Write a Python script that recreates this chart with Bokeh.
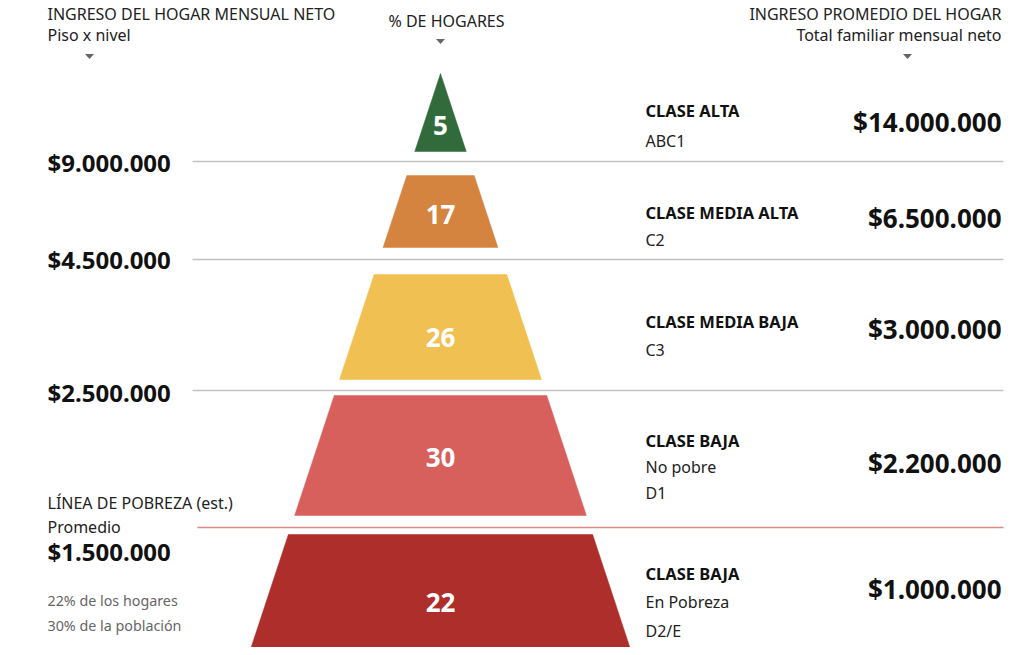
from bokeh.plotting import figure
from bokeh.models import Range1d
from bokeh.core.properties import value
from bokeh.embed import file_html
from bokeh.resources import INLINE

# ---------------- DATA ----------------
clases = ["CLASE ALTA", "CLASE MEDIA ALTA", "CLASE MEDIA BAJA", "CLASE BAJA", "CLASE BAJA"]
subniveles = [["ABC1"], ["C2"], ["C3"], ["No pobre", "D1"], ["En Pobreza", "D2/E"]]
pct_hogares = [5, 17, 26, 30, 22]
ingreso_promedio = [14000000, 6500000, 3000000, 2200000, 1000000]
colores = ["#316b3b", "#d4843f", "#f1c053", "#d75f5c", "#ad2e2a"]
pisos = [9000000, 4500000, 2500000]
linea_pobreza = 1500000
pobreza_hogares_pct = 22
pobreza_poblacion_pct = 30

# ---------------- LAYOUT (page pixel frame) ----------------
W, H = 1016, 647
CX = 440            # pyramid axis
APEX = 73           # pyramid apex
SLOPE = 0.33        # half-width per pixel of height
band_top = [73, 175, 274, 395, 534]
band_bot = [151, 247, 379, 515, 652]
pct_base = [135, 224, 347, 467, 612]
clase_base = [117, 219, 328, 447, 580]
sub_base = [[147], [246], [356], [473, 499], [608, 637]]
prom_base = [132, 228, 339, 473, 599]
sep_y = [161, 259, 390]
piso_base = [172, 269, 402]
pobreza_y = 527
X_LEFT = 47
X_CLASE = 645
X_RIGHT = 1001
LINE_X0 = 192
LINE_X1 = 1003
BASE_SHIFT = 0.4    # renderer baseline correction, in em

FONT = value("Noto Sans")


def money(v):
    return "$" + f"{v:,}".replace(",", ".")


def fix(ys, size):
    return [y - BASE_SHIFT * size for y in ys]


p = figure(width=W, height=H, output_backend="svg", toolbar_location=None,
           x_range=Range1d(0, W), y_range=Range1d(H, 0),
           min_border=0, outline_line_color=None)
p.axis.visible = False
p.grid.visible = False
p.background_fill_color = "white"
p.border_fill_color = "white"


def txt(x, y, t, size, bold=False, color="#222222", align="left"):
    p.text(x=x, y=fix(y, size), text=t, text_font=FONT,
           text_font_style="bold" if bold else "normal",
           text_font_size=f"{size}px", text_color=color,
           text_align=align, text_baseline="alphabetic")


# pyramid bands
xs, ys = [], []
for t, b in zip(band_top, band_bot):
    ht = SLOPE * (t - APEX)
    hb = SLOPE * (b - APEX)
    xs.append([CX - ht, CX + ht, CX + hb, CX - hb])
    ys.append([t, t, b, b])
p.patches(xs=xs, ys=ys, fill_color=colores, line_color=colores, line_width=0.5)

# percentage labels
txt([CX] * len(pct_hogares), pct_base, [str(v) for v in pct_hogares], 26,
    bold=True, color="white", align="center")

# separator lines
p.segment(x0=[LINE_X0] * len(sep_y), y0=sep_y, x1=[LINE_X1] * len(sep_y), y1=sep_y,
          line_color="#c2c2c2", line_width=1.3)
p.segment(x0=[LINE_X0 + 5], y0=[pobreza_y], x1=[LINE_X1], y1=[pobreza_y],
          line_color="#dc8a84", line_width=1.3)

# left floor values
txt([X_LEFT] * len(pisos), piso_base, [money(v) for v in pisos], 24,
    bold=True, color="#111111")

# poverty block
txt([X_LEFT, X_LEFT], [509, 533], ["LÍNEA DE POBREZA (est.)", "Promedio"], 16)
txt([X_LEFT], [561], [money(linea_pobreza)], 24, bold=True, color="#111111")
txt([X_LEFT, X_LEFT], [606, 631],
    [f"{pobreza_hogares_pct}% de los hogares", f"{pobreza_poblacion_pct}% de la población"],
    14.3, color="#666666")

# class names and sub-levels
txt([X_CLASE] * len(clases), clase_base, clases, 16.5, bold=True, color="#111111")
sx, sy, st = [], [], []
for subs, bases in zip(subniveles, sub_base):
    for s, b in zip(subs, bases):
        sx.append(X_CLASE)
        sy.append(b)
        st.append(s)
txt(sx, sy, st, 16)

# average incomes
txt([X_RIGHT] * len(ingreso_promedio), prom_base,
    [money(v) for v in ingreso_promedio], 26, bold=True, color="#111111", align="right")

# headers
txt([X_LEFT, X_LEFT], [20, 41], ["INGRESO DEL HOGAR MENSUAL NETO", "Piso x nivel"], 16)
txt([446], [27], ["% DE HOGARES"], 16, align="center")
txt([X_RIGHT, X_RIGHT], [20, 41],
    ["INGRESO PROMEDIO DEL HOGAR", "Total familiar mensual neto"], 16, align="right")

# small down markers
mk_x = [89, 440, 907]
mk_y = [56, 41, 56]
txs, tys = [], []
for mx, my in zip(mk_x, mk_y):
    txs.append([mx - 4.5, mx + 4.5, mx])
    tys.append([my - 2.5, my - 2.5, my + 2.5])
p.patches(xs=txs, ys=tys, fill_color="#666666", line_color=None)

open("out.html", "w").write(file_html(p, INLINE))
